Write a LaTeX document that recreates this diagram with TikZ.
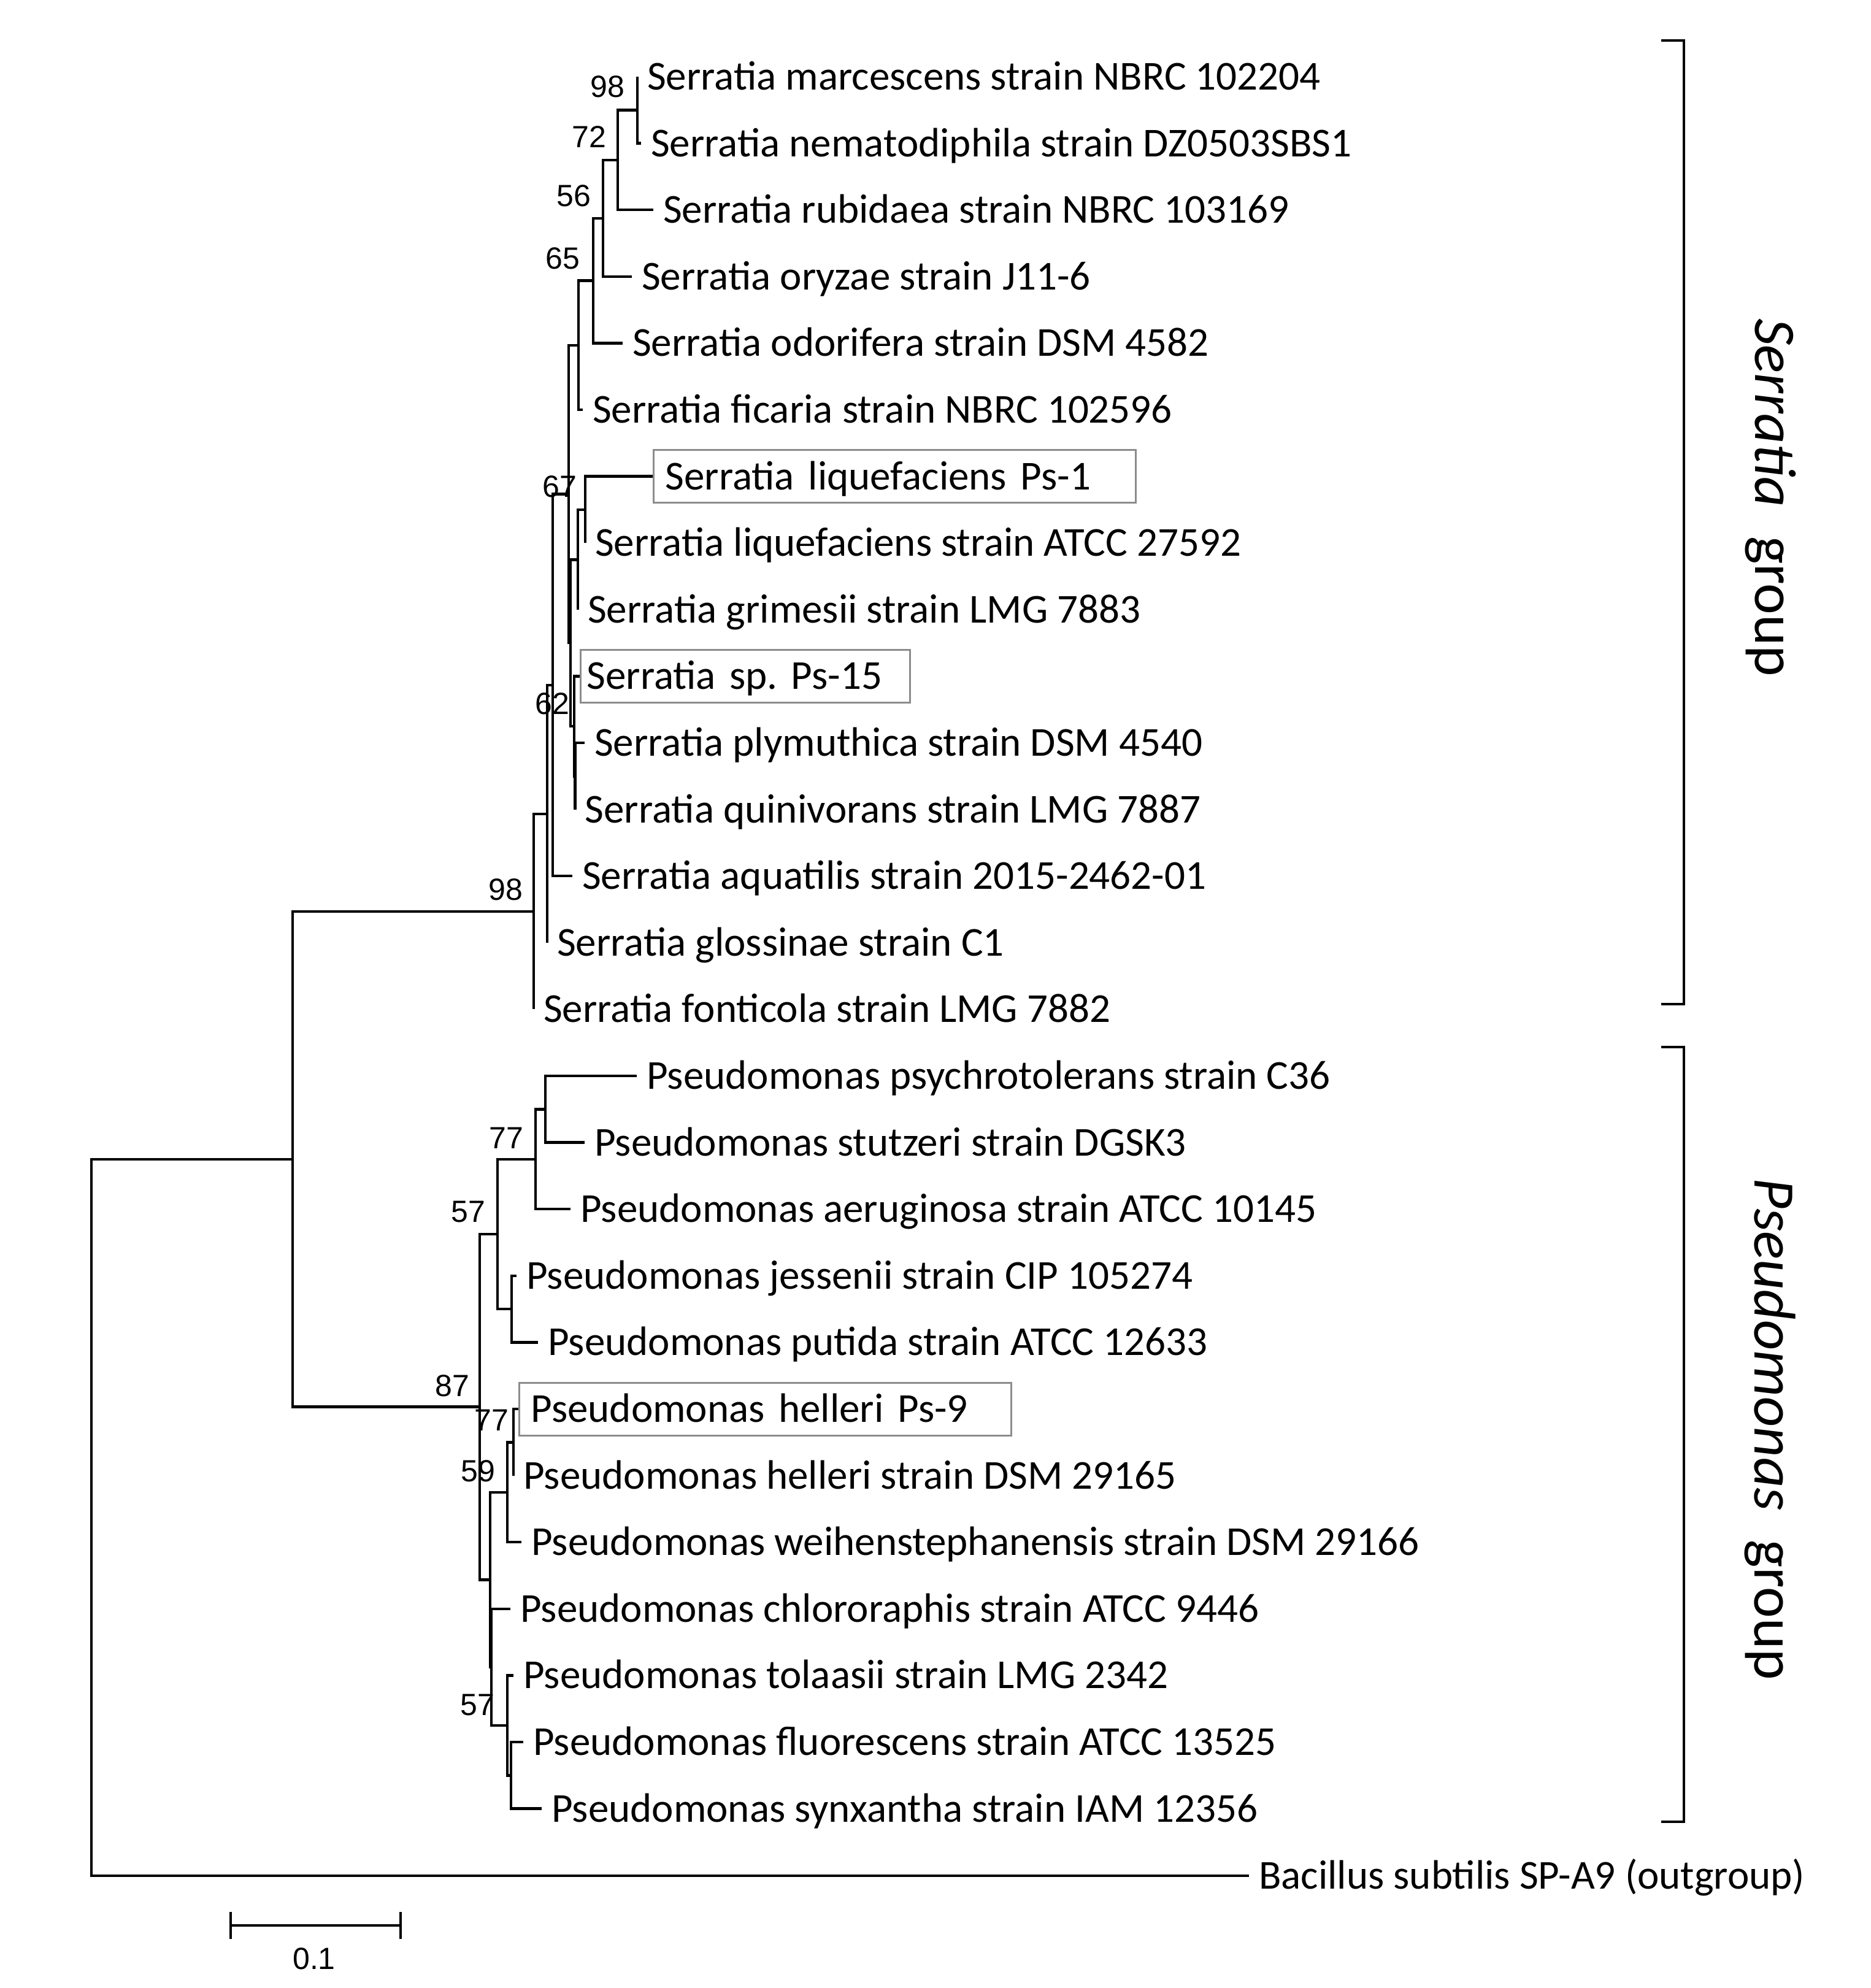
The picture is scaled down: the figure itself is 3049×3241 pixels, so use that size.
\documentclass[tikz,border=0pt]{standalone}
\usepackage{fontspec}
\setmainfont{Carlito}
\newfontfamily\bsfont{Liberation Sans}
\frenchspacing
\begin{document}
\begin{tikzpicture}[x=1pt,y=-1pt,
  br/.style={line width=4.5pt,line join=miter},
  leaf/.style={anchor=west,inner xsep=16pt,inner ysep=0pt,text height=43pt,text depth=0pt,font=\fontsize{67}{80}\selectfont},
  boxleaf/.style={leaf,draw=black!45,line width=3pt,inner xsep=19pt,minimum height=86pt,text width=#1,align=left},
  bs/.style={font=\bsfont\fontsize{50}{60}\selectfont,inner sep=0pt},
  grp/.style={rotate=-90,font=\fontsize{96}{115}\selectfont,inner sep=0pt},
  brk/.style={line width=4pt}]
\useasboundingbox (0,0) rectangle (3049,3241);

% ---------- leaves: Serratia ----------
\node[leaf] (l1) at (1039,125) {Serratia marcescens strain NBRC 102204};
\node[leaf] (l2) at (1045,233.6) {Serratia nematodiphila strain DZ0503SBS1};
\node[leaf] (l3) at (1065,342.2) {Serratia rubidaea strain NBRC 103169};
\node[leaf] (l4) at (1030,450.8) {Serratia oryzae strain J11-6};
\node[leaf] (l5) at (1015,559.4) {Serratia odorifera strain DSM 4582};
\node[leaf] (l6) at (950,668) {Serratia ficaria strain NBRC 102596};
\node[boxleaf=748pt] (l7) at (1064,776.6) {Serratia\hspace{0.34em}liquefaciens\hspace{0.34em}Ps-1};
\node[leaf] (l8) at (954,885.2) {Serratia liquefaciens strain ATCC 27592};
\node[leaf] (l9) at (942,993.8) {Serratia grimesii strain LMG 7883};
\node[boxleaf=517pt,inner xsep=10pt] (l10) at (945,1102.4) {Serratia sp. Ps-15};
\node[leaf] (l11) at (953,1211) {Serratia plymuthica strain DSM 4540};
\node[leaf] (l12) at (937.5,1319.6) {Serratia quinivorans strain LMG 7887};
\node[leaf] (l13) at (933,1428.2) {Serratia aquatilis strain 2015-2462-01};
\node[leaf] (l14) at (892,1536.8) {Serratia glossinae strain C1};
\node[leaf] (l15) at (870,1645.4) {Serratia fonticola strain LMG 7882};

% ---------- leaves: Pseudomonas ----------
\node[leaf] (l16) at (1038,1754) {Pseudomonas psychrotolerans strain C36};
\node[leaf] (l17) at (953,1862.6) {Pseudomonas stutzeri strain DGSK3};
\node[leaf] (l18) at (930,1971.2) {Pseudomonas aeruginosa strain ATCC 10145};
\node[leaf] (l19) at (842,2079.8) {Pseudomonas jessenii strain CIP 105274};
\node[leaf] (l20) at (877,2188.4) {Pseudomonas putida strain ATCC 12633};
\node[boxleaf=764pt] (l21) at (845,2297) {Pseudomonas\hspace{0.34em}helleri\hspace{0.34em}Ps-9};
\node[leaf] (l22) at (837,2405.6) {Pseudomonas helleri strain DSM 29165};
\node[leaf] (l23) at (850,2514.2) {Pseudomonas weihenstephanensis strain DSM 29166};
\node[leaf] (l24) at (832,2622.8) {Pseudomonas chlororaphis strain ATCC 9446};
\node[leaf] (l25) at (837,2731.4) {Pseudomonas tolaasii strain LMG 2342};
\node[leaf] (l26) at (853,2840) {Pseudomonas fluorescens strain ATCC 13525};
\node[leaf] (l27) at (883,2948.6) {Pseudomonas synxantha strain IAM 12356};
\node[leaf] (l28) at (2036,3058) {Bacillus subtilis SP-A9 (outgroup)};

% ---------- internal nodes ----------
\coordinate (a98) at (1039,179.3);
\coordinate (a72) at (1007,260.8);
\coordinate (a56) at (983,355.8);
\coordinate (a65) at (967,457.6);
\coordinate (aU) at (943,562.8);
\coordinate (aL1) at (954,830.9);
\coordinate (aL2) at (942,912.4);
\coordinate (aR1) at (937.5,1265.3);
\coordinate (aR2) at (936,1183.9);
\coordinate (aQ) at (930,1048.2);
\coordinate (aP) at (927,805.5);
\coordinate (aB) at (901,1116.9);
\coordinate (aA) at (892,1326.9);
\coordinate (aRoot) at (870,1486.2);

\coordinate (b77) at (889,1808.3);
\coordinate (bA) at (873,1889.8);
\coordinate (bJ) at (834,2134.1);
\coordinate (b57) at (811,2012);
\coordinate (bH2) at (837,2351.3);
\coordinate (bH) at (827,2432.8);
\coordinate (bS1) at (833,2894.3);
\coordinate (bS2) at (827,2812.9);
\coordinate (bS3a) at (801,2717.9);
\coordinate (bS3b) at (799,2575.4);
\coordinate (bRoot) at (782,2293.7);

\coordinate (T) at (477,1890);
\coordinate (R) at (149,2474);

% ---------- branches ----------
\begin{scope}[br]
\draw (a98) |- (l1.west); \draw (a98) |- (l2.west);
\draw (a72) |- (a98); \draw (a72) |- (l3.west);
\draw (a56) |- (a72); \draw (a56) |- (l4.west);
\draw (a65) |- (a56); \draw (a65) |- (l5.west);
\draw (aU) |- (a65); \draw (aU) |- (l6.west);
\draw (aL1) |- (l7.west); \draw (aL1) |- (l8.west);
\draw (aL2) |- (aL1); \draw (aL2) |- (l9.west);
\draw (aR1) |- (l11.west); \draw (aR1) |- (l12.west);
\draw (aR2) |- (l10.west); \draw (aR2) |- (aR1);
\draw (aQ) |- (aL2); \draw (aQ) |- (aR2);
\draw (aP) |- (aU); \draw (aP) |- (aQ);
\draw (aB) |- (aP); \draw (aB) |- (l13.west);
\draw (aA) |- (aB); \draw (aA) |- (l14.west);
\draw (aRoot) |- (aA); \draw (aRoot) |- (l15.west);

\draw (b77) |- (l16.west); \draw (b77) |- (l17.west);
\draw (bA) |- (b77); \draw (bA) |- (l18.west);
\draw (bJ) |- (l19.west); \draw (bJ) |- (l20.west);
\draw (b57) |- (bA); \draw (b57) |- (bJ);
\draw (bH2) |- (l21.west); \draw (bH2) |- (l22.west);
\draw (bH) |- (bH2); \draw (bH) |- (l23.west);
\draw (bS1) |- (l26.west); \draw (bS1) |- (l27.west);
\draw (bS2) |- (l25.west); \draw (bS2) |- (bS1);
\draw (bS3a) |- (l24.west); \draw (bS3a) |- (bS2);
\draw (bS3b) |- (bH); \draw (bS3b) |- (bS3a);
\draw (bRoot) |- (b57); \draw (bRoot) |- (bS3b);

\draw (T) |- (aRoot); \draw (T) |- (bRoot);
\draw (R) |- (T); \draw (R) |- (l28.west);
\end{scope}

% ---------- bootstrap values ----------
\node[bs] (s1) at (990,141) {98};
\node[bs] (s2) at (960,223) {72};
\node[bs] (s3) at (935,319) {56};
\node[bs] (s4) at (917,421) {65};
\node[bs] (s5) at (912,793) {67};
\node[bs] (s6) at (900,1147) {62};
\node[bs] (s7) at (824,1450) {98};
\node[bs] (s8) at (825,1855) {77};
\node[bs] (s9) at (763,1976) {57};
\node[bs] (s10) at (737,2259) {87};
\node[bs] (s11) at (801,2315) {77};
\node[bs] (s12) at (779,2398) {59};
\node[bs] (s13) at (778,2780) {57};

% ---------- scale bar ----------
\coordinate (sb1) at (376,3139);
\coordinate (sb2) at (653,3139);
\draw[line width=4pt] (sb1) -- (sb2);
\draw[line width=4pt] ([yshift=22pt]sb1) -- ([yshift=-22pt]sb1);
\draw[line width=4pt] ([yshift=22pt]sb2) -- ([yshift=-22pt]sb2);
\node[bs] (sbl) at (512,3193) {0.1};

% ---------- brackets and group labels ----------
\draw[brk] (2708,66) -- (2745,66) -- (2745,1637) -- (2708,1637);
\draw[brk] (2708,1707) -- (2745,1707) -- (2745,2970) -- (2708,2970);
\node[grp] (gS) at (2886,811) {\textit{Serratia}\hspace{0.5em}group};
\node[grp] (gP) at (2886,2330) {\textit{Pseudomonas}\hspace{0.5em}group};
\end{tikzpicture}
\end{document}
